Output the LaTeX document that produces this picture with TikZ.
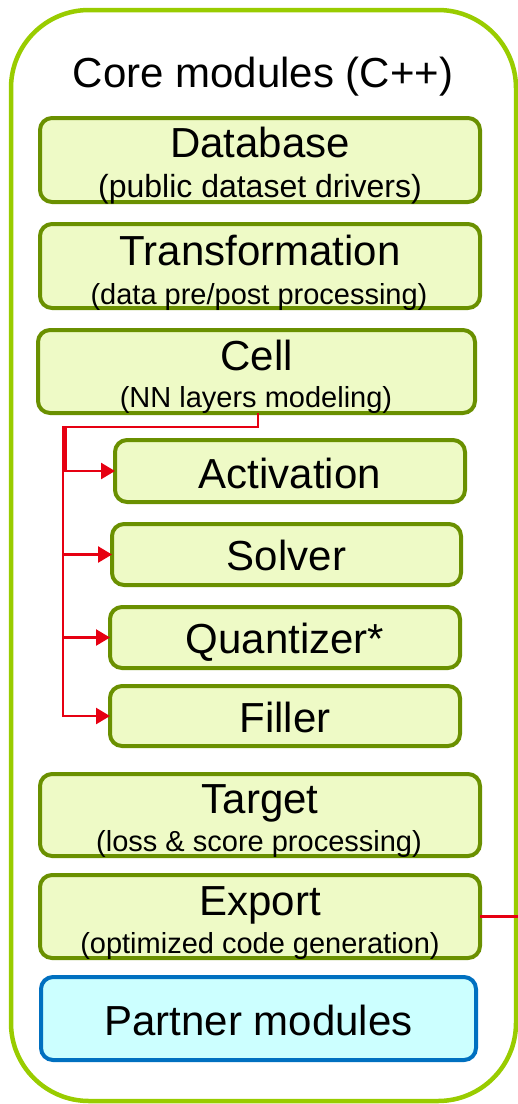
\documentclass[tikz,border=0pt]{standalone}
\usepackage{fontspec}
\setmainfont{Liberation Sans}
\usetikzlibrary{arrows.meta}
\definecolor{framegreen}{HTML}{99CC00}
\definecolor{boxedge}{HTML}{6A9000}
\definecolor{boxfill}{HTML}{EEFAC6}
\definecolor{partneredge}{HTML}{0070C0}
\definecolor{partnerfill}{HTML}{CCFFFF}
\definecolor{linkred}{HTML}{E60012}
\tikzset{
  gbox/.style={draw=boxedge, fill=boxfill, line width=4pt, rounded corners=12pt,
    inner sep=0pt, outer sep=0pt},
  pbox/.style={draw=partneredge, fill=partnerfill, line width=4pt, rounded corners=12pt,
    inner sep=0pt, outer sep=0pt},
  ttl/.style={anchor=base, inner sep=0pt, font=\fontsize{42}{48}\selectfont},
  sub/.style={anchor=base, inner sep=0pt, font=\fontsize{29}{34}\selectfont},
  link/.style={draw=linkred, line width=2.6pt},
  linkarrow/.style={link, -{Triangle[length=14pt,width=16pt]}},
}
\begin{document}
\begin{tikzpicture}[x=1pt, y=-1pt]
  \useasboundingbox (0,0) rectangle (518,1104);

  % outer frame
  \draw[framegreen, line width=4.5pt, rounded corners=78pt] (11,10) rectangle (516,1101);
  \node[ttl] (coretitle) at (263,87) {Core modules (C++)};

  % main modules
  \node[gbox, minimum width=440pt, minimum height=84pt] (db) at (260,160) {};
  \node[ttl] (dbt) at (260,157) {Database};
  \node[sub, font=\fontsize{32}{36}\selectfont] (dbs) at (260,197) {(public dataset drivers)};

  \node[gbox, minimum width=440pt, minimum height=84pt] (tr) at (260,266) {};
  \node[ttl] (trt) at (260,265) {Transformation};
  \node[sub] (trs) at (259,304) {(data pre/post processing)};

  \node[gbox, minimum width=437pt, minimum height=83pt] (cell) at (256.5,371.5) {};
  \node[ttl] (cellt) at (256.5,370) {Cell};
  \node[sub] (cells) at (256,407) {(NN layers modeling)};

  % cell sub-modules
  \node[gbox, minimum width=350pt, minimum height=62pt] (act) at (290,471) {};
  \node[ttl] (actt) at (290,488) {Activation};
  \node[gbox, minimum width=349pt, minimum height=61pt] (sol) at (286.5,554.5) {};
  \node[ttl] (solt) at (286.5,570) {Solver};
  \node[gbox, minimum width=350pt, minimum height=61pt] (qua) at (285,637.5) {};
  \node[ttl] (quat) at (285,653) {Quantizer*};
  \node[gbox, minimum width=350pt, minimum height=60pt] (fil) at (285,716) {};
  \node[ttl] (filt) at (285,732) {Filler};

  \node[gbox, minimum width=440pt, minimum height=82pt] (tgt) at (260,815) {};
  \node[ttl] (tgtt) at (260,813) {Target};
  \node[sub] (tgts) at (259,851) {(loss \& score processing)};

  \node[gbox, minimum width=440pt, minimum height=83pt] (exp) at (260,916.5) {};
  \node[ttl] (expt) at (260,915) {Export};
  \node[sub] (exps) at (260,953) {(optimized code generation)};

  \node[pbox, minimum width=435pt, minimum height=83pt] (part) at (258.5,1018.5) {};
  \node[ttl] (partt) at (258.5,1035) {Partner modules};

  % connectors from Cell to its sub-modules
  \coordinate (cellout) at (258,413);
  \coordinate (bend) at (258,427);
  \draw[linkarrow] (cellout) -- (bend) -- (65.5,427) |- (act.west);
  \draw[linkarrow] (bend) -- (63,427) |- (sol.west);
  \draw[linkarrow] (bend) -- (63,427) |- (qua.west);
  \draw[linkarrow] (bend) -- (63,427) |- (fil.west);

  % Export link leaving the frame
  \coordinate (expout) at (518,916.5);
  \draw[link] (exp.east) -- (expout);
\end{tikzpicture}
\end{document}
